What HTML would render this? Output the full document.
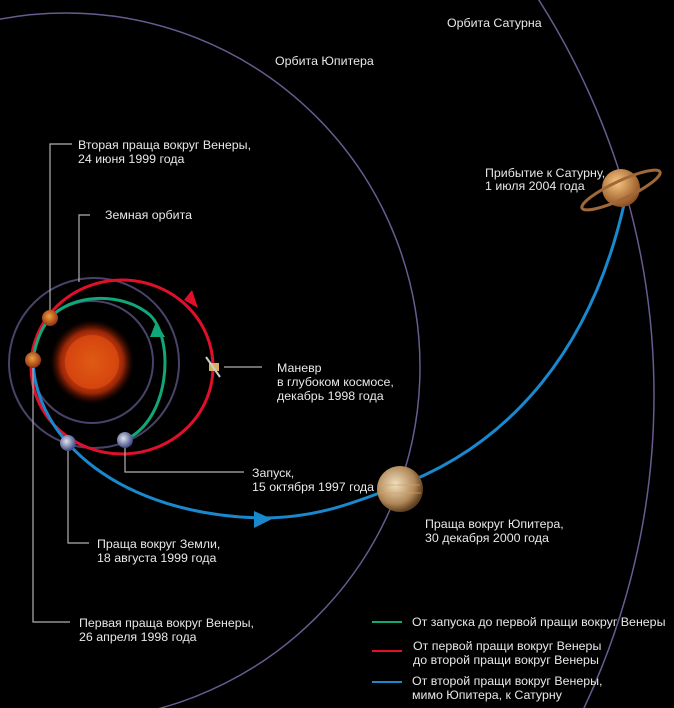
<!DOCTYPE html>
<html><head><meta charset="utf-8"><style>
html,body{margin:0;padding:0;background:#000;overflow:hidden;width:674px;height:708px}
svg{display:block}
text{font-family:"Liberation Sans",sans-serif;font-size:12.4px;fill:#e8e8e8;}
</style></head><body>
<svg width="674" height="708" viewBox="0 0 674 708" xmlns="http://www.w3.org/2000/svg">
<defs>
<radialGradient id="sun" cx="50%" cy="50%" r="50%">
<stop offset="0" stop-color="#f8a020"/><stop offset="0.55" stop-color="#d04010"/><stop offset="0.75" stop-color="#c03008" stop-opacity="0.8"/><stop offset="1" stop-color="#501000" stop-opacity="0"/>
</radialGradient>
<radialGradient id="ven" cx="45%" cy="40%" r="60%"><stop offset="0" stop-color="#f0a040"/><stop offset="1" stop-color="#903010"/></radialGradient>
<radialGradient id="earth" cx="40%" cy="40%" r="60%"><stop offset="0" stop-color="#e0e4f0"/><stop offset="1" stop-color="#404880"/></radialGradient>
<radialGradient id="jup" cx="40%" cy="40%" r="60%"><stop offset="0" stop-color="#f0e0c0"/><stop offset="0.7" stop-color="#b08858"/><stop offset="1" stop-color="#604020"/></radialGradient>
<radialGradient id="sat" cx="40%" cy="35%" r="65%"><stop offset="0" stop-color="#f8c880"/><stop offset="1" stop-color="#905020"/></radialGradient>
</defs>
<rect width="674" height="708" fill="#000"/>
<circle cx="66" cy="367" r="354" fill="none" stroke="#6a5a90" stroke-width="1.5"/>
<circle cx="-81" cy="395" r="735" fill="none" stroke="#6a5a90" stroke-width="1.5"/>
<circle cx="92" cy="362" r="61" fill="none" stroke="#4a4268" stroke-width="2"/>
<circle cx="94" cy="363" r="85" fill="none" stroke="#4a4268" stroke-width="2"/>
<circle cx="92" cy="362" r="42" fill="url(#sun)"/>
<circle cx="92" cy="362" r="27" fill="#d84a10" opacity="0.8"/>
<ellipse cx="122" cy="367" rx="91" ry="87" fill="none" stroke="#e0102a" stroke-width="3"/>
<polygon points="184,300 198,308 192,290" fill="#e0102a"/>
<path d="M125,440 C170,420 175,340 150,315 C120,290 70,295 50,318 C40,330 35,345 33,360" fill="none" stroke="#10a878" stroke-width="3"/>
<polygon points="150,337 165,337 156,322" fill="#10a878"/>
<path d="M33,360 C35,440 120,515 262,518 C320,518 360,500 393,488 C500,450 590,360 625,200" fill="none" stroke="#1a88cc" stroke-width="3"/>
<polygon points="254,511 254,528 272,519" fill="#1a88cc"/>
<g stroke="#b0b0b0" stroke-width="1.2" fill="none">
<polyline points="50,318 50,144 72,144"/>
<polyline points="79,282 79,215 90,215"/>
<line x1="224" y1="367" x2="262" y2="367"/>
<polyline points="125,446 125,472 244,472"/>
<polyline points="68,450 68,543 89,543"/>
<polyline points="33,368 33,622 70,622"/>
</g>
<circle cx="50" cy="318" r="8" fill="url(#ven)"/>
<circle cx="33" cy="360" r="8" fill="url(#ven)"/>
<circle cx="68" cy="443" r="8" fill="url(#earth)"/>
<circle cx="125" cy="440" r="8" fill="url(#earth)"/>
<g transform="translate(214,367)"><rect x="-5" y="-4" width="10" height="8" fill="#d8b060"/><line x1="-8" y1="-10" x2="6" y2="10" stroke="#ccc" stroke-width="2"/></g>
<circle cx="400" cy="489" r="23" fill="url(#jup)"/>
<g stroke="#d8a060" stroke-width="1" opacity="0.7"><line x1="380" y1="485" x2="420" y2="485"/><line x1="379" y1="493" x2="421" y2="493"/></g>
<circle cx="621" cy="188" r="19" fill="url(#sat)"/>
<ellipse cx="621" cy="190" rx="43" ry="9" transform="rotate(-25 621 190)" fill="none" stroke="#a06838" stroke-width="3"/>
<text x="447" y="27">Орбита Сатурна</text>
<text x="275" y="65">Орбита Юпитера</text>
<text x="78" y="149">Вторая праща вокруг Венеры,</text>
<text x="78" y="163">24 июня 1999 года</text>
<text x="105" y="219">Земная орбита</text>
<text x="485" y="177">Прибытие к Сатурну,</text>
<text x="485" y="190">1 июля 2004 года</text>
<text x="277" y="372">Маневр</text>
<text x="277" y="386">в глубоком космосе,</text>
<text x="277" y="400">декабрь 1998 года</text>
<text x="252" y="477">Запуск,</text>
<text x="252" y="491">15 октября 1997 года</text>
<text x="425" y="528">Праща вокруг Юпитера,</text>
<text x="425" y="542">30 декабря 2000 года</text>
<text x="97" y="548">Праща вокруг Земли,</text>
<text x="97" y="562">18 августа 1999 года</text>
<text x="79" y="627">Первая праща вокруг Венеры,</text>
<text x="79" y="641">26 апреля 1998 года</text>
<line x1="372" y1="622" x2="402" y2="622" stroke="#10a878" stroke-width="2"/>
<line x1="372" y1="651" x2="402" y2="651" stroke="#e0102a" stroke-width="2"/>
<line x1="372" y1="682" x2="402" y2="682" stroke="#1a88cc" stroke-width="2"/>
<text x="412" y="626">От запуска до первой пращи вокруг Венеры</text>
<text x="413" y="650">От первой пращи вокруг Венеры</text>
<text x="413" y="664">до второй пращи вокруг Венеры</text>
<text x="412" y="685">От второй пращи вокруг Венеры,</text>
<text x="412" y="699">мимо Юпитера, к Сатурну</text>
</svg>
</body></html>
